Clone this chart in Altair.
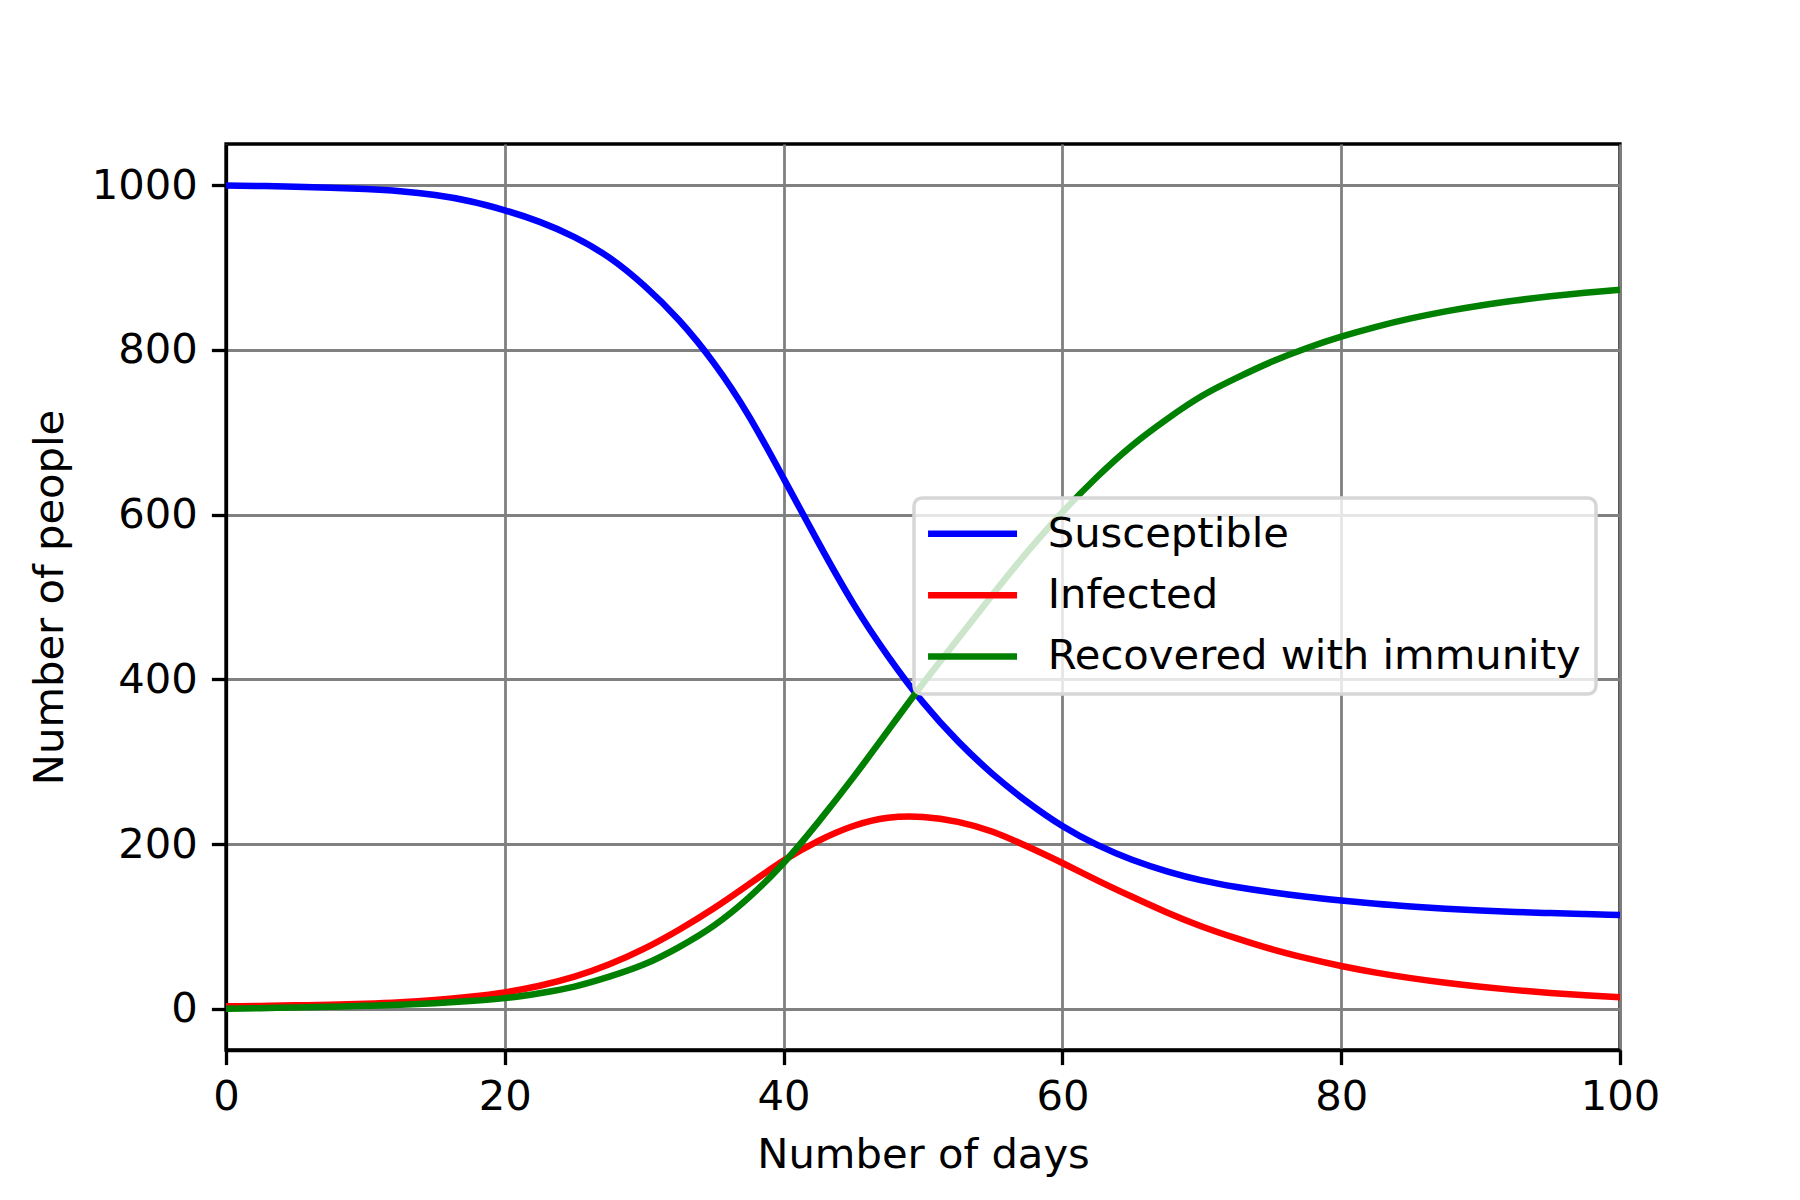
import altair as alt
import pandas as pd

# Values (every 2.5 days)
days = [0, 2.5, 5, 7.5, 10, 12.5, 15, 17.5, 20, 22.5, 25, 27.5, 30, 32.5, 35, 37.5, 40,
        42.5, 45, 47.5, 50, 52.5, 55, 57.5, 60, 62.5, 65, 67.5, 70, 72.5, 75, 77.5, 80,
        82.5, 85, 87.5, 90, 92.5, 95, 97.5, 100]
susceptible = [999.5, 999, 998.2, 997, 995.3, 992.6, 988, 980.5, 969.5, 955.5, 937, 912, 878, 836,
               784, 720, 644, 566, 492, 428, 372, 325, 285, 251, 222, 199, 181, 167, 156, 148,
               141.5, 136, 131.5, 127.5, 124.3, 121.6, 119.4, 117.6, 116.2, 115, 114]
infected = [3, 3.5, 4.2, 5, 6.2, 8, 10.8, 14.7, 20, 28, 39, 54, 73, 96, 122, 151, 180,
            204, 222, 232, 233, 227, 215, 197, 177, 156, 136, 117, 100, 85.5, 72.5, 61.5, 52,
            44, 37.3, 31.6, 26.8, 22.7, 19.3, 16.4, 14]
recovered = [0, 0.8, 1.6, 2.5, 3.6, 4.9, 6.8, 9.4, 13, 19, 27, 39, 54, 75, 101, 135, 177,
             227, 281, 338, 395, 449, 503, 555, 603, 646, 684, 716, 744, 766, 785.5, 802, 816,
             828, 838.2, 846.8, 854, 860, 865.2, 869.5, 873]

series_names = ["Susceptible", "Infected", "Recovered with immunity"]
series_colors = ["#0000ff", "#ff0000", "#008000"]
x_ticks = [0, 20, 40, 60, 80, 100]
y_ticks = [0, 200, 400, 600, 800, 1000]

rows = []
for name, vals in zip(series_names, [susceptible, infected, recovered]):
    for d, v in zip(days, vals):
        rows.append({"day": d, "people": v, "series": name, "order": series_names.index(name)})
df = pd.DataFrame(rows)

FS = 41.7
FONT = "DejaVu Sans"

chart = alt.Chart(df).mark_line(strokeWidth=6.5, interpolate="natural").encode(
    x=alt.X("day:Q",
            scale=alt.Scale(domain=[0, 100], nice=False, zero=False),
            axis=alt.Axis(values=x_ticks, title="Number of days", format="d",
                          labelPadding=12, titlePadding=16, labelFlush=False)),
    y=alt.Y("people:Q",
            scale=alt.Scale(domain=[-50, 1050], nice=False, zero=False),
            axis=alt.Axis(values=y_ticks, title="Number of people", format="d",
                          labelPadding=14, titlePadding=20, labelFlush=False)),
    color=alt.Color("series:N",
                    scale=alt.Scale(domain=series_names, range=series_colors),
                    legend=alt.Legend(
                        title=None, orient="none", legendX=688, legendY=354,
                        fillColor="rgba(255,255,255,0.8)", strokeColor="#d6d6d6",
                        cornerRadius=8, padding=15,
                        symbolType="M-1.47,0L4.53,0", symbolSize=880,
                        symbolStrokeWidth=6.5,
                        labelFont=FONT, labelFontSize=FS, labelColor="black",
                        labelOffset=77, rowPadding=18.3, labelLimit=1000,
                    )),
    order="order:Q",
).properties(
    width=1394, height=906,
    autosize=alt.AutoSizeParams(type="none"),
    padding={"left": 218, "top": 136, "right": 170, "bottom": 140},
    background="white",
).configure_view(
    stroke="black", strokeWidth=3.3,
).configure_legend(
    strokeWidth=3.5,
).configure_axis(
    domainColor="black", domainWidth=3.3,
    tickColor="black", tickWidth=3.3, tickSize=14.6,
    grid=True, gridColor="#808080", gridWidth=2.8, gridOpacity=1,
    labelFont=FONT, labelFontSize=FS, labelColor="black",
    titleFont=FONT, titleFontSize=FS, titleFontWeight="normal", titleColor="black",
)

chart.save("out.html", embed_options={"renderer": "svg", "actions": False})
